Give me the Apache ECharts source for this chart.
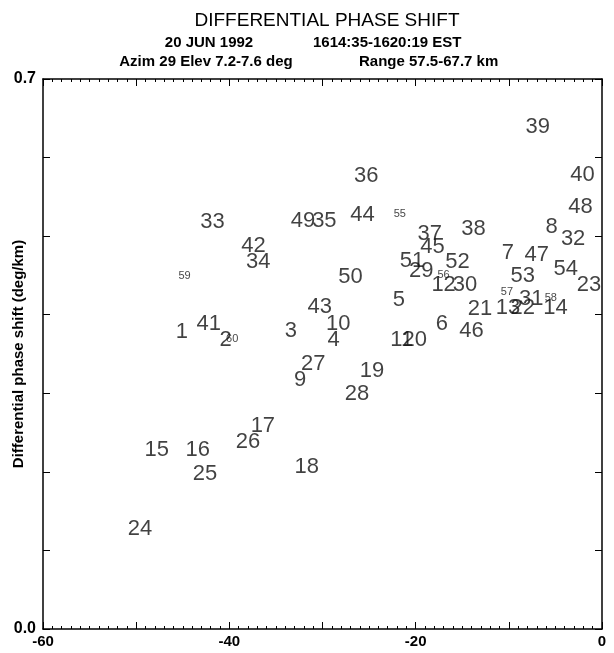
<!DOCTYPE html>
<html>
<head>
<meta charset="utf-8">
<title>Differential phase shift</title>
<script src="https://cdn.jsdelivr.net/npm/echarts@6/dist/echarts.min.js"></script>
<style>
  html, body { margin: 0; padding: 0; background: #fff; }
  #chart { width: 614px; height: 653px; }
</style>
</head>
<body>
<div id="chart"></div>
<script>
// point numbers, plotted as text at their position
var pointIds = [
  1, 2, 3, 4, 5, 6, 7, 8, 9, 10,
  11, 12, 13, 14, 15, 16, 17, 18, 19, 20,
  21, 22, 23, 24, 25, 26, 27, 28, 29, 30,
  31, 32, 33, 34, 35, 36, 37, 38, 39, 40,
  41, 42, 43, 44, 45, 46, 47, 48, 49, 50,
  51, 52, 53, 54, 55, 56, 57, 58, 59, 60
];
var xVals = [
  -45.1, -40.4, -33.4, -28.8, -21.8, -17.2, -10.1, -5.4, -32.4, -28.3,
  -21.5, -17.0, -10.1, -5.0, -47.8, -43.4, -36.4, -31.7, -24.7, -20.1,
  -13.1, -8.5, -1.4, -49.6, -42.6, -38.0, -31.0, -26.3, -19.4, -14.7,
  -7.6, -3.1, -41.8, -36.9, -29.8, -25.3, -18.5, -13.8, -6.9, -2.1,
  -42.2, -37.4, -30.3, -25.7, -18.2, -14.0, -7.0, -2.3, -32.1, -27.0,
  -20.4, -15.5, -8.5, -3.9, -21.7, -17.0, -10.2, -5.5, -44.8, -39.7
];
var yVals = [
  0.378, 0.368, 0.379, 0.368, 0.419, 0.388, 0.479, 0.512, 0.317, 0.388,
  0.368, 0.438, 0.409, 0.409, 0.228, 0.228, 0.258, 0.206, 0.328, 0.368,
  0.407, 0.409, 0.438, 0.127, 0.197, 0.238, 0.337, 0.299, 0.456, 0.438,
  0.420, 0.496, 0.518, 0.467, 0.519, 0.577, 0.503, 0.509, 0.639, 0.578,
  0.388, 0.487, 0.410, 0.527, 0.486, 0.379, 0.476, 0.537, 0.519, 0.448,
  0.468, 0.467, 0.449, 0.458, 0.528, 0.451, 0.429, 0.421, 0.449, 0.369
];
// these ones are printed in a smaller size
var smallIds = [55, 56, 57, 58, 59, 60];

var xLabels = [-60, -40, -20, 0];
var yLabels = [0, 0.7];

var bigPts = [], smallPts = [];
for (var i = 0; i < pointIds.length; i++) {
  var p = { name: String(pointIds[i]), value: [xVals[i], yVals[i]] };
  if (smallIds.indexOf(pointIds[i]) >= 0) smallPts.push(p);
  else bigPts.push(p);
}

var tickStyle = { color: '#000', width: 1 };
var frameLine = { onZero: false, lineStyle: { color: '#000', width: 1.5 } };

function pointSeries(data, size) {
  return {
    type: 'scatter',
    data: data,
    symbolSize: 1,
    itemStyle: { color: 'rgba(0,0,0,0)' },
    label: {
      show: true,
      position: 'inside',
      formatter: '{b}',
      color: '#111',
      fontFamily: 'Liberation Sans',
      fontSize: size,
      align: 'center',
      verticalAlign: 'middle'
    },
    silent: true
  };
}

var subStyle = { fontFamily: 'Liberation Sans', fontSize: 15, fontWeight: 'bold', color: '#000' };

var chart = echarts.init(document.getElementById('chart'));
chart.setOption({
  animation: false,
  backgroundColor: '#fff',
  title: [
    {
      text: 'DIFFERENTIAL PHASE SHIFT',
      left: 322, top: 6, textAlign: 'center',
      textStyle: { fontFamily: 'Liberation Sans', fontSize: 19, fontWeight: 'normal', color: '#000' }
    },
    { text: '20 JUN 1992', left: 204, top: 30, textAlign: 'center', textStyle: subStyle },
    { text: '1614:35-1620:19 EST', left: 308, top: 30, textStyle: subStyle },
    { text: 'Azim 29 Elev 7.2-7.6 deg', left: 201, top: 49, textAlign: 'center', textStyle: subStyle },
    { text: 'Range 57.5-67.7 km', left: 354, top: 49, textStyle: subStyle }
  ],
  grid: { left: 43, right: 12, top: 79, bottom: 24, outerBoundsMode: 'none', containLabel: false },
  xAxis: [
    {
      type: 'value', min: -60, max: 0, interval: 10,
      axisLine: frameLine,
      axisTick: { inside: true, length: 7, lineStyle: tickStyle },
      minorTick: { show: true, splitNumber: 10, length: 3, lineStyle: tickStyle },
      splitLine: { show: false },
      axisLabel: {
        color: '#000', fontFamily: 'Liberation Sans', fontSize: 15, fontWeight: 'bold', margin: 5,
        formatter: function (v) { return xLabels.indexOf(v) >= 0 ? String(v) : ''; }
      }
    },
    {
      type: 'value', min: -60, max: 0, interval: 10, position: 'top',
      axisLine: frameLine,
      axisTick: { inside: true, length: 7, lineStyle: tickStyle },
      minorTick: { show: true, splitNumber: 10, length: 3, lineStyle: tickStyle },
      splitLine: { show: false },
      axisLabel: { show: false }
    }
  ],
  yAxis: [
    {
      type: 'value', min: 0, max: 0.7, interval: 0.1,
      name: 'Differential phase shift (deg/km)',
      nameLocation: 'middle', nameGap: 17, nameRotate: 90, nameMoveOverlap: false,
      nameTextStyle: { fontFamily: 'Liberation Sans', fontSize: 15, fontWeight: 'bold', color: '#000' },
      axisLine: frameLine,
      axisTick: { inside: true, length: 7, lineStyle: tickStyle },
      splitLine: { show: false },
      axisLabel: {
        color: '#000', fontFamily: 'Liberation Sans', fontSize: 16, fontWeight: 'bold', margin: 7,
        formatter: function (v) {
          for (var k = 0; k < yLabels.length; k++) {
            if (Math.abs(v - yLabels[k]) < 1e-6) return v.toFixed(1);
          }
          return '';
        }
      }
    },
    {
      type: 'value', min: 0, max: 0.7, interval: 0.1, position: 'right',
      axisLine: frameLine,
      axisTick: { inside: true, length: 7, lineStyle: tickStyle },
      splitLine: { show: false },
      axisLabel: { show: false }
    }
  ],
  series: [
    pointSeries(bigPts, 22),
    pointSeries(smallPts, 11)
  ]
});
</script>
</body>
</html>
